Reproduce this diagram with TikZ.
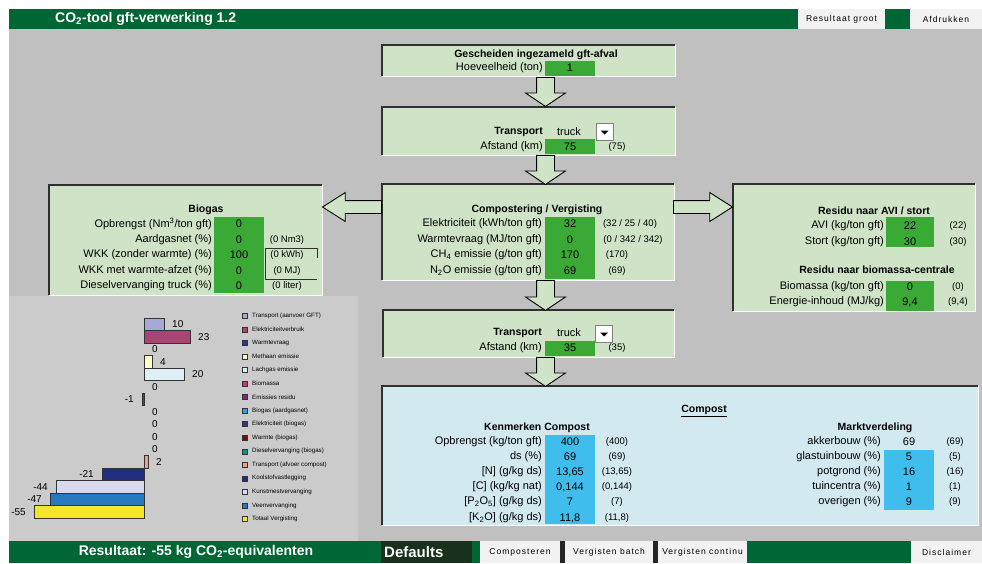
\documentclass[tikz,border=0pt]{standalone}
\usepackage{fontspec}
\setmainfont{Liberation Sans}
\newfontfamily\btnfont[LetterSpace=12]{Liberation Sans}
\usepackage{xcolor}
\usepackage{tikz}
\usetikzlibrary{positioning,shapes.arrows,calc}

\definecolor{topgreen}{HTML}{006633}
\definecolor{sheetgray}{HTML}{C0C0C0}
\definecolor{chartgray}{HTML}{CBCBCB}
\definecolor{panelgreen}{HTML}{CFE3C7}
\definecolor{cellgreen}{HTML}{3AA935}
\definecolor{panelblue}{HTML}{D2E9EF}
\definecolor{cellblue}{HTML}{3FBEEE}
\definecolor{btngray}{HTML}{F2F2F2}
\definecolor{darkbtn}{HTML}{18301C}
\definecolor{edgedark}{HTML}{303030}
% kleuren grafiek
\definecolor{cTrans}{HTML}{A9A9D9}
\definecolor{cElek}{HTML}{A94574}
\definecolor{cWarm}{HTML}{2B3A8F}
\definecolor{cMeth}{HTML}{FFFFCC}
\definecolor{cLach}{HTML}{DDF0F5}
\definecolor{cBiom}{HTML}{CC3377}
\definecolor{cResi}{HTML}{7A2A7A}
\definecolor{cBgas}{HTML}{22A8E0}
\definecolor{cBelek}{HTML}{33338F}
\definecolor{cBwarm}{HTML}{8B0000}
\definecolor{cDiesel}{HTML}{009999}
\definecolor{cAfvoer}{HTML}{F09A9A}
\definecolor{cKool}{HTML}{1F2E80}
\definecolor{cKunst}{HTML}{D9D9EE}
\definecolor{cVeen}{HTML}{2878C0}
\definecolor{cTotaal}{HTML}{F5E62A}

\tikzset{
panel/.style={
fill=panelgreen,
inner sep=0pt,
outer sep=0pt,
anchor=north west
},
cell/.style={
fill=cellgreen,
inner sep=0pt,
outer sep=0pt,
anchor=north west
},
darkedge/.style={
draw=edgedark,
line width=1.2pt
},
lightedge/.style={
draw=white,
line width=1pt
},
lbl/.style={
anchor=east,
inner sep=0pt,
font=\fontsize{11}{13}\selectfont
},
val/.style={
inner sep=0pt,
font=\fontsize{11}{13}\selectfont
},
hint/.style={
inner sep=0pt,
font=\fontsize{9.5}{11}\selectfont
},
head/.style={
inner sep=0pt,
font=\fontsize{10.5}{12}\selectfont\bfseries
},
downarrow/.style={
single arrow,
draw=black,
line width=0.9pt,
fill=panelgreen,
shape border rotate=270,
inner xsep=8.5pt,
inner ysep=0pt,
single arrow head extend=11pt,
single arrow tip angle=112,
anchor=tail
},
sidearrow/.style={
single arrow,
draw=black,
line width=0.9pt,
fill=panelgreen,
inner xsep=0pt,
inner ysep=6pt,
single arrow head extend=8pt,
single arrow tip angle=65,
minimum height=59pt,
anchor=tail
},
dropbtn/.style={
draw=gray,
fill=white,
inner sep=0pt,
minimum width=17pt,
minimum height=17pt
},
btn/.style={
fill=btngray,
inner sep=0pt,
minimum height=20pt,
font=\btnfont\fontsize{8.5}{10}\selectfont
},
bar/.style={
draw=black!80,
line width=0.6pt
},
barval/.style={
inner sep=0pt,
font=\fontsize{10}{12}\selectfont
},
legtext/.style={
anchor=west,
inner sep=0pt,
font=\fontsize{6.2}{7}\selectfont
}
}

\begin{document}
\begin{tikzpicture}[x=1pt,y=-1pt]
\useasboundingbox (0,0) rectangle (982,563);
\fill[white] (0,0) rectangle (982,563);
\fill[sheetgray] (9,29) rectangle (982,541);

% kopbalk
\node[fill=topgreen,inner sep=0pt,anchor=north west,minimum width=973pt,minimum height=20pt] (topbar) at (9,9) {};
\node[anchor=west,inner sep=0pt,text=white,font=\fontsize{14}{16}\selectfont\bfseries] (title) at (55,19) {CO\textsubscript{2}-tool gft-verwerking 1.2};
\node[btn,minimum width=87pt] (groot) at (841.5,19) {Resultaat groot};
\node[btn,minimum width=72pt] (print) at (946,19) {Afdrukken};

% grafiekvlak
\node[fill=chartgray,inner sep=0pt,anchor=north west,minimum width=349pt,minimum height=245pt] (chart) at (9,296) {};

% panelen
\node[panel,minimum width=293pt,minimum height=31pt] (gft) at (382,45) {};
\node[panel,minimum width=293pt,minimum height=48pt] (trans1) at (382,107) {};
\node[panel,minimum width=292pt,minimum height=96pt] (comp) at (382,184) {};
\node[panel,minimum width=291pt,minimum height=47pt] (trans2) at (383,310) {};
\node[panel,minimum width=273pt,minimum height=110pt] (biogas) at (49,185) {};
\node[panel,minimum width=242pt,minimum height=127pt] (residu) at (733,184) {};
\node[panel,fill=panelblue,minimum width=596pt,minimum height=139pt] (compost) at (382,386) {};

\foreach \p in {gft,trans1,comp,trans2,biogas,residu,compost}{
\draw[lightedge] (\p.north east) -- (\p.south east) -- (\p.south west);
\draw[darkedge] (\p.south west) -- (\p.north west) -- (\p.north east);
}

% invoercellen
\node[cell,minimum width=50pt,minimum height=15pt] (gftcell) at (545,61) {};
\node[cell,minimum width=50pt,minimum height=15pt] (t1cell) at (545,139) {};
\node[cell,minimum width=50pt,minimum height=62pt] (compcell) at (545,217) {};
\node[cell,minimum width=50pt,minimum height=15pt] (t2cell) at (545,341) {};
\node[cell,minimum width=50pt,minimum height=76pt] (biocell) at (214,217) {};
\node[cell,minimum width=48pt,minimum height=30pt] (avicell) at (886,217) {};
\node[cell,minimum width=48pt,minimum height=30pt] (biomcell) at (886,281) {};
\node[cell,fill=cellblue,minimum width=50pt,minimum height=89pt] (kencell) at (545,435) {};
\node[cell,fill=cellblue,minimum width=50pt,minimum height=60pt] (marktcell) at (884,450) {};

% gft-afval
\node[head] (gfthead) at (536,55) {Gescheiden ingezameld gft-afval};
\node[lbl] (gftlbl) at (543,68) {Hoeveelheid (ton)};
\node[val] (gftval) at (570,68) {1};

% transport aanvoer
\node[head,anchor=east] (t1head) at (543,132) {Transport};
\node[val] (t1mode) at (569,132) {truck};
\node[dropbtn] (dd1) at (604.5,132) {};
\fill ($(dd1)+(-4,-1.5)$) -- ($(dd1)+(4,-1.5)$) -- ($(dd1)+(0,2.5)$) -- cycle;
\node[lbl] (t1lbl) at (543,147) {Afstand (km)};
\node[val] (t1val) at (570,147) {75};
\node[hint] (t1hint) at (617,147) {(75)};

% compostering / vergisting
\node[head] (comphead) at (537,210) {Compostering / Vergisting};
\foreach \y/\l/\v/\hx/\h [count=\i] in {
224/{Elektriciteit (kWh/ton gft)}/32/630/{(32 / 25 / 40)},
240/{Warmtevraag (MJ/ton gft)}/0/633/{(0 / 342 / 342)},
255/{CH\textsubscript{4} emissie (g/ton gft)}/170/617/{(170)},
271/{N\textsubscript{2}O emissie (g/ton gft)}/69/617/{(69)}}{
\node[lbl] (cl\i) at (542,\y) {\l};
\node[val] (cv\i) at (570,\y) {\v};
\node[hint] (ch\i) at (\hx,\y) {\h};
}

% biogas
\node[head] (biohead) at (206,210) {Biogas};
\foreach \y/\l/\v/\h [count=\i] in {
224/{Opbrengst (Nm\textsuperscript{3}/ton gft)}/0/{},
240/{Aardgasnet (\%)}/0/{(0 Nm3)},
255/{WKK (zonder warmte) (\%)}/100/{(0 kWh)},
271/{WKK met warmte-afzet (\%)}/0/{(0 MJ)},
286/{Dieselvervanging truck (\%)}/0/{(0 liter)}}{
\node[lbl] (bl\i) at (212,\y) {\l};
\node[val] (bv\i) at (239,\y) {\v};
\node[hint] (bh\i) at (287,\y) {\h};
}
\draw[edgedark,line width=0.8pt] (317,258) -- (317,248) -- (265.5,248) -- (265.5,279.5) -- (317,279.5);

% residu
\node[head] (avihead) at (874,211) {Residu naar AVI / stort};
\node[head] (biomhead) at (877,270) {Residu naar biomassa-centrale};
\foreach \y/\l/\v/\h [count=\i] in {
226/{AVI (kg/ton gft)}/22/{(22)},
242/{Stort (kg/ton gft)}/30/{(30)},
287/{Biomassa (kg/ton gft)}/0/{(0)},
302/{Energie-inhoud (MJ/kg)}/{9,4}/{(9,4)}}{
\node[lbl] (rl\i) at (884,\y) {\l};
\node[val] (rv\i) at (910,\y) {\v};
\node[hint] (rh\i) at (958,\y) {\h};
}

% transport afvoer
\node[head,anchor=east] (t2head) at (542,333) {Transport};
\node[val] (t2mode) at (569,333) {truck};
\node[dropbtn] (dd2) at (604,334) {};
\fill ($(dd2)+(-4,-1.5)$) -- ($(dd2)+(4,-1.5)$) -- ($(dd2)+(0,2.5)$) -- cycle;
\node[lbl] (t2lbl) at (542,348) {Afstand (km)};
\node[val] (t2val) at (570,348) {35};
\node[hint] (t2hint) at (617,348) {(35)};

% compost
\node[head] (comphd) at (704,411) {\underline{Compost}};
\node[head] (kenhead) at (537,428) {Kenmerken Compost};
\foreach \y/\l/\v/\h [count=\i] in {
442/{Opbrengst (kg/ton gft)}/400/{(400)},
457/{ds (\%)}/69/{(69)},
472/{[N] (g/kg ds)}/{13,65}/{(13,65)},
487/{[C] (kg/kg nat)}/{0,144}/{(0,144)},
502/{[P\textsubscript{2}O\textsubscript{5}] (g/kg ds)}/7/{(7)},
518/{[K\textsubscript{2}O] (g/kg ds)}/{11,8}/{(11,8)}}{
\node[lbl] (kl\i) at (542,\y) {\l};
\node[val] (kv\i) at (570,\y) {\v};
\node[hint] (kh\i) at (617,\y) {\h};
}
\node[head] (markthead) at (875,428) {Marktverdeling};
\foreach \y/\l/\v [count=\i] in {
442/{akkerbouw (\%)}/69,
457/{glastuinbouw (\%)}/5,
472/{potgrond (\%)}/16,
487/{tuincentra (\%)}/1,
502/{overigen (\%)}/9}{
\node[lbl] (ml\i) at (881,\y) {\l};
\node[val] (mv\i) at (909,\y) {\v};
\node[hint] (mh\i) at (955,\y) {(\v)};
}

% pijlen tussen de panelen
\node[downarrow,minimum height=29pt] (ar1) at (545.5,77) {};
\node[downarrow,minimum height=29pt] (ar2) at (545.5,155) {};
\node[downarrow,minimum height=30pt] (ar3) at (545.5,280) {};
\node[downarrow,minimum height=29pt] (ar4) at (545.5,357) {};
\node[sidearrow,shape border rotate=180] (arl) at (382,207) {};
\node[sidearrow] (arr) at (673,207) {};

% staafgrafiek
\foreach \v/\c/\a [count=\i] in {10/cTrans/west,23/cElek/west,0/cWarm/west,4/cMeth/west,
20/cLach/west,0/cBiom/west,-1/cResi/east,0/cBgas/west,0/cBelek/west,0/cBwarm/west,
0/cDiesel/west,2/cAfvoer/west,-21/cKool/east,-44/cKunst/east,-47/cVeen/east,-55/cTotaal/east}{
\pgfmathsetmacro\yt{318+(\i-1)*12.5}
\pgfmathsetmacro\xe{144+2*\v}
\pgfmathsetmacro\xl{\v<0 ? \xe-8 : \xe+8}
\ifnum\v=0\else
\draw[bar,fill=\c] (144,\yt) rectangle (\xe,\yt+12.5);
\fi
\node[barval,anchor=\a] (sv\i) at (\xl,\yt+6.25) {\v};
}

% legenda
\foreach \t/\c [count=\i] in {Transport (aanvoer GFT)/cTrans,Elektriciteitverbruik/cElek,
Warmtevraag/cWarm,Methaan emissie/cMeth,Lachgas emissie/cLach,Biomassa/cBiom,
Emissies residu/cResi,Biogas (aardgasnet)/cBgas,Elektriciteit (biogas)/cBelek,
Warmte (biogas)/cBwarm,Dieselvervanging (biogas)/cDiesel,Transport (afvoer compost)/cAfvoer,
Koolstofvastlegging/cKool,Kunstmestvervanging/cKunst,Veenvervanging/cVeen,Totaal Vergisting/cTotaal}{
\pgfmathsetmacro\yl{316+(\i-1)*13.53}
\draw[black!80,line width=0.5pt,fill=\c] (242.5,\yl-2.5) rectangle (247.5,\yl+2.5);
\node[legtext] (lg\i) at (252,\yl) {\t};
}

% voetbalk
\node[fill=topgreen,inner sep=0pt,anchor=north west,minimum width=973pt,minimum height=22pt] (footbar) at (9,541) {};
\node[text=white,inner sep=0pt,font=\fontsize{14}{16}\selectfont\bfseries] (result) at (196,552) {Resultaat: -55 kg CO\textsubscript{2}-equivalenten};
\node[fill=darkbtn,inner sep=0pt,anchor=north west,minimum width=91pt,minimum height=22pt] (defbox) at (381,541) {};
\node[text=white,anchor=west,inner sep=0pt,font=\fontsize{15}{17}\selectfont\bfseries] (defaults) at (384,552) {Defaults};
\fill[black!85] (560,541) rectangle (565,563);
\fill[black!85] (653,541) rectangle (658,563);
\node[btn,minimum width=80pt,minimum height=22pt] (bcomp) at (520,552) {Composteren};
\node[btn,minimum width=88pt,minimum height=22pt] (bbatch) at (609,552) {Vergisten batch};
\node[btn,minimum width=89pt,minimum height=22pt] (bcont) at (702.5,552) {Vergisten continu};
\node[btn,minimum width=71pt,minimum height=22pt] (bdisc) at (946.5,552) {Disclaimer};
\end{tikzpicture}
\end{document}
